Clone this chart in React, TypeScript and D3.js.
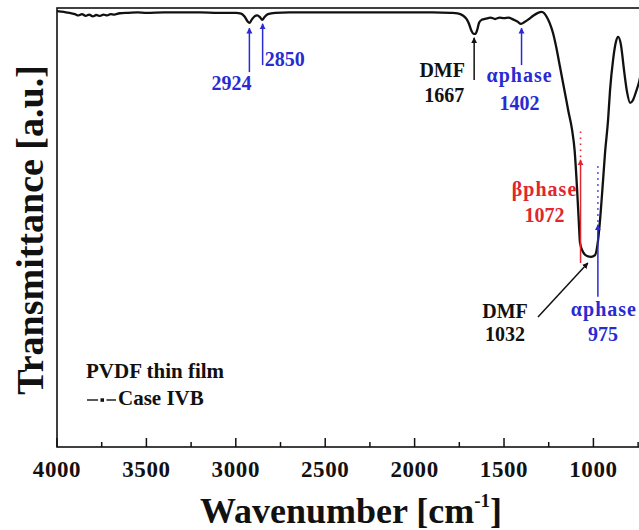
import React from 'react';
import * as d3 from 'd3';

// Spectrum (wavenumber in cm-1, transmittance in a.u.)
const wavenumbers = [
  4000, 3960, 3930, 3900, 3880, 3860, 3840, 3820, 3800, 3780, 3760, 3740, 3720, 3700, 3680, 3650,
  3600, 3550, 3500, 3400, 3300, 3200, 3100, 3000, 2970, 2950, 2935, 2924, 2910, 2895, 2880, 2865,
  2852, 2840, 2820, 2780, 2700, 2500, 2300, 2100, 1900, 1800, 1760, 1730, 1710, 1695, 1682, 1670,
  1660, 1650, 1640, 1625, 1600, 1575, 1550, 1525, 1500, 1475, 1450, 1425, 1405, 1385, 1360, 1335,
  1310, 1290, 1275, 1260, 1245, 1226, 1205, 1187, 1159, 1140, 1120, 1105, 1092, 1082, 1075, 1058,
  1036, 1013, 991, 974, 963, 946, 935, 918, 907, 890, 874, 862, 846, 829, 812, 795,
  779, 762, 745, 720, 700,
];
const transmittance = [
  99.3, 99.1, 98.9, 98.6, 98.3, 98.6, 98.2, 98.5, 98.1, 98.4, 98.2, 98.5, 98.3, 98.6, 98.5, 98.8,
  98.9, 99.0, 98.9, 99.0, 99.0, 99.0, 98.9, 98.9, 98.7, 98.0, 97.0, 96.6, 97.4, 98.1, 98.3, 97.9,
  97.3, 97.9, 98.6, 98.9, 99.0, 99.0, 99.0, 99.0, 99.0, 98.9, 98.8, 98.3, 97.5, 96.3, 94.8, 94.1,
  94.1, 95.0, 96.6, 97.3, 97.6, 97.8, 97.5, 97.8, 97.7, 97.8, 97.4, 96.9, 96.4, 96.8, 97.5, 98.3,
  98.9, 99.1, 98.8, 97.9, 96.6, 94.3, 90.5, 86.6, 80.6, 76.5, 72.4, 67.5, 59.2, 51.5, 46.5, 44.4,
  43.5, 43.3, 43.7, 47.1, 51.7, 60.8, 67.0, 74.5, 81.3, 88.2, 92.3, 93.4, 91.6, 85.9, 80.9, 78.4,
  79.0, 80.9, 83.1, 88.0, 91.0,
];

const majorTicks = [4000, 3500, 3000, 2500, 2000, 1500, 1000, 500];
const minorTicks = [3750, 3250, 2750, 2250, 1750, 1250, 750];
const labelTicks = [4000, 3500, 3000, 2500, 2000, 1500, 1000];
const tickLabels = ['4000', '3500', '3000', '2500', '2000', '1500', '1000'];

const xTitle = 'Wavenumber [cm';
const yTitle = 'Transmittance [a.u.]';
const legendTitle = 'PVDF thin film';
const seriesName = 'Case IVB';

const BLUE = '#2a2ad2';
const RED = '#e2262e';

type Ann = {
  w: number; tipT: number; tailT: number; tailW?: number; dotT?: number;
  color: string; lines: { text: string; dx: number; dy: number; anchor: string }[];
};

const annotations: Ann[] = [
  { w: 2924, tipT: 95.4, tailT: 85.4, color: BLUE, lines: [{ text: '2924', dx: -18, dy: 18, anchor: 'middle' }] },
  { w: 2850, tipT: 96.4, tailT: 87.0, color: BLUE, lines: [{ text: '2850', dx: 2, dy: 1, anchor: 'start' }] },
  { w: 1667, tipT: 93.2, tailT: 83.6, color: '#111', lines: [
    { text: 'DMF', dx: -32, dy: -3, anchor: 'middle' }, { text: '1667', dx: -30, dy: 22, anchor: 'middle' }] },
  { w: 1402, tipT: 95.4, tailT: 87.0, color: BLUE, lines: [
    { text: 'αphase', dx: -2, dy: 17, anchor: 'middle' }, { text: '1402', dx: -2, dy: 45, anchor: 'middle' }] },
  { w: 1072, tipT: 65.4, tailT: 41.9, dotT: 72.7, color: RED, lines: [
    { text: 'βphase', dx: -36, dy: -67, anchor: 'middle' }, { text: '1072', dx: -36, dy: -41, anchor: 'middle' }] },
  { w: 975, tipT: 50.6, tailT: 34.2, dotT: 64.7, color: BLUE, lines: [
    { text: 'αphase', dx: 6, dy: 19, anchor: 'middle' }, { text: '975', dx: 5, dy: 44, anchor: 'middle' }] },
  { w: 1031, tailW: 1310, tipT: 41.9, tailT: 29.6, color: '#111', lines: [
    { text: 'DMF', dx: -33, dy: 1, anchor: 'middle' }, { text: '1032', dx: -33, dy: 24, anchor: 'middle' }] },
];

const W = 639;
const H = 530;
const FONT = '"Liberation Serif", "Times New Roman", serif';

export default function App() {
  const x = d3.scaleLinear().domain([4000, 400]).range([57, 700.7]);
  const y = d3.scaleLinear().domain([0, 100]).range([447, 8]);
  const pts: [number, number][] = wavenumbers.map((w, i) => [x(w), y(transmittance[i])]);
  const line = d3.line<[number, number]>().x((d) => d[0]).y((d) => d[1]).curve(d3.curveMonotoneX);
  const x0 = x(4000);
  const x1 = x(400);
  const yTop = y(100);
  const yBot = y(0);

  return (
    <svg width={W} height={H} style={{ position: 'absolute', left: 0, top: 0, background: '#fff' }} fontFamily={FONT}>
      <defs>
        {[['arrBlue', BLUE], ['arrRed', RED], ['arrBlack', '#111']].map(([id, c]) => (
          <marker key={id} id={id} viewBox="0 0 10 10" refX="9" refY="5" markerWidth="6" markerHeight="7"
            markerUnits="userSpaceOnUse" orient="auto">
            <path d="M0,0 L10,5 L0,10 z" fill={c} />
          </marker>
        ))}
      </defs>
      <rect x={0} y={0} width={W} height={H} fill="#fff" />
      {/* frame */}
      <rect x={x0} y={yTop} width={x1 - x0} height={yBot - yTop} fill="none" stroke="#111" strokeWidth={1.6} />
      {/* ticks */}
      {majorTicks.map((t) => (
        <line key={'M' + t} x1={x(t)} x2={x(t)} y1={yBot} y2={yBot - 9} stroke="#111" strokeWidth={1.5} />
      ))}
      {minorTicks.map((t) => (
        <line key={'m' + t} x1={x(t)} x2={x(t)} y1={yBot} y2={yBot - 5} stroke="#111" strokeWidth={1.5} />
      ))}
      {labelTicks.map((t, i) => (
        <text key={'L' + t} x={x(t)} y={477} textAnchor="middle" fontSize={23} fontWeight="bold"
          letterSpacing={0.6} fill="#111">{tickLabels[i]}</text>
      ))}
      {/* spectrum */}
      <path d={line(pts) || ''} fill="none" stroke="#111" strokeWidth={2.3} strokeLinejoin="round" />
      {/* annotations */}
      {annotations.map((a, i) => {
        const ax = x(a.w);
        const tipY = y(a.tipT);
        const tx = a.tailW !== undefined ? x(a.tailW) : ax;
        const ty = y(a.tailT);
        const marker = a.color === BLUE ? 'arrBlue' : a.color === RED ? 'arrRed' : 'arrBlack';
        return (
          <g key={i}>
            {a.dotT !== undefined && (
              <line x1={ax} x2={ax} y1={tipY - 3} y2={y(a.dotT)} stroke={a.color} strokeWidth={1.6}
                strokeDasharray="1.5,4.5" />
            )}
            <line x1={tx} y1={ty} x2={ax} y2={tipY} stroke={a.color} strokeWidth={1.5} markerEnd={`url(#${marker})`} />
            {a.lines.map((l, j) => (
              <text key={j} x={tx + l.dx} y={ty + l.dy} textAnchor={l.anchor as any} fontSize={20}
                fontWeight="bold" fill={a.color} letterSpacing={l.text.includes('phase') ? 1 : 0}>{l.text}</text>
            ))}
          </g>
        );
      })}
      {/* legend */}
      <text x={86} y={378} fontSize={21} fontWeight="bold" fill="#111">{legendTitle}</text>
      <line x1={87} x2={98} y1={400} y2={400} stroke="#111" strokeWidth={1.4} />
      <rect x={100.5} y={398.3} width={3.5} height={3.5} fill="#111" />
      <line x1={106.5} x2={116} y1={400} y2={400} stroke="#111" strokeWidth={1.4} />
      <text x={118} y={405} fontSize={21} fontWeight="bold" fill="#111">{seriesName}</text>
      {/* axis titles */}
      <text x={351} y={523} textAnchor="middle" fontSize={36} fontWeight="bold" fill="#111">
        {xTitle}
        <tspan fontSize={19} dy={-16}>-1</tspan>
        <tspan dy={16}>]</tspan>
      </text>
      <text transform="translate(43,230) rotate(-90)" textAnchor="middle" fontSize={38} fontWeight="bold" fill="#111">
        {yTitle}
      </text>
    </svg>
  );
}
